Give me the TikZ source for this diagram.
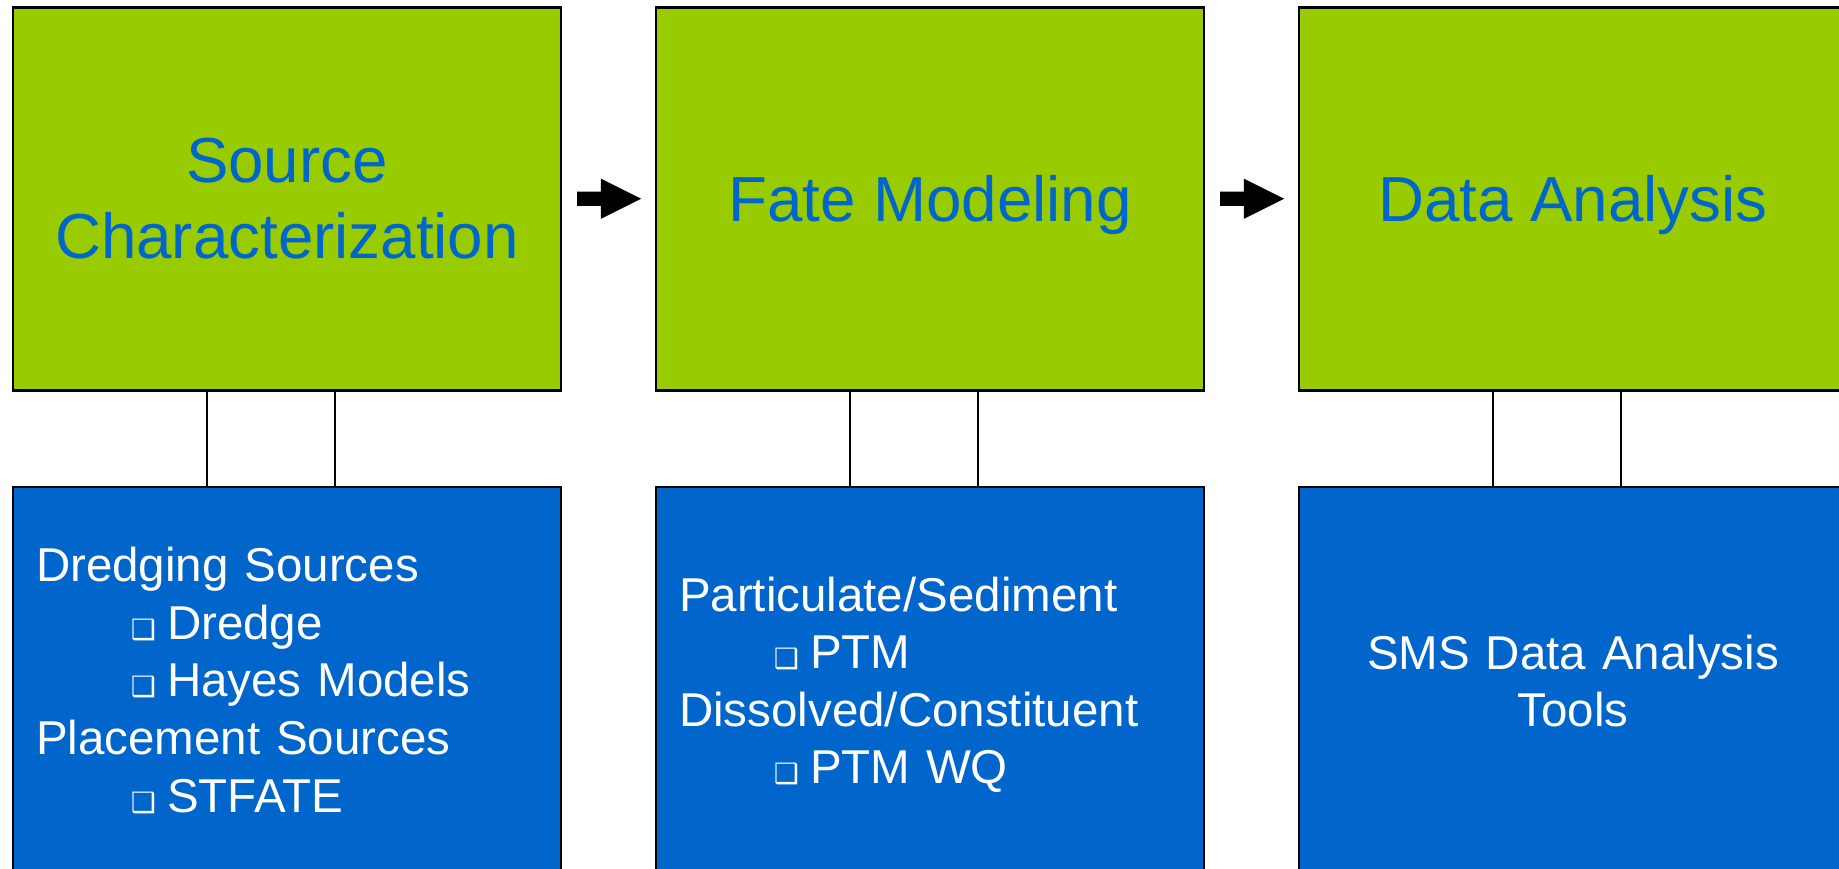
\documentclass[tikz,border=0pt]{standalone}
\usepackage{fontspec}
\setmainfont{Liberation Sans}
\newfontfamily\dingfont{DejaVu Sans}
\usetikzlibrary{positioning,shapes.arrows,calc}
\definecolor{stagegreen}{HTML}{99CC00}
\definecolor{toolblue}{HTML}{0066CC}
\tikzset{
  stage/.style={draw=black, line width=2.5pt, outer sep=0pt, fill=stagegreen,
    minimum width=548pt, minimum height=383pt, inner sep=0pt, text=toolblue,
    text depth=0pt, align=center, font=\fontsize{63.7}{76}\selectfont},
  tools/.style={draw=black, line width=2.5pt, outer sep=0pt, fill=toolblue,
    minimum width=548pt, minimum height=383pt, inner sep=0pt, text=white,
    text height=36pt, text width=502pt, font=\fontsize{47.5}{57.6}\selectfont},
  flow/.style={single arrow, fill=black, draw=none, minimum height=64pt,
    inner xsep=0pt, inner ysep=7pt, single arrow head extend=13pt,
    single arrow tip angle=53.13, anchor=tail},
  link/.style={line width=2pt}
}
\newcommand{\tooldot}{\makebox[131pt][r]{{\dingfont\fontsize{28}{28}\selectfont ❑}\hspace{11pt}}}
\begin{document}
\begin{tikzpicture}[x=1pt, y=-1pt]
    \useasboundingbox (0,0) rectangle (1839,868);

    % Stage boxes, left to right
    \node[stage] (src) at (287,198.75) {Source\\Characterization};
    \node[stage, right=95pt of src] (fate) {Fate Modeling};
    \node[stage, right=95pt of fate] (data) {Data Analysis};

    % Tool boxes below each stage (text depth sets where the lines sit)
    \node[tools, align=left, text depth=229pt, below=96.5pt of src] (srcT) {Dredging Sources\\
      \tooldot Dredge\\
      \tooldot Hayes Models\\
      Placement Sources\\
      \tooldot STFATE};
    \node[tools, align=left, text depth=170.5pt, below=96.5pt of fate] (fateT) {Particulate/Sediment\\
      \tooldot PTM\\
      Dissolved/Constituent\\
      \tooldot PTM WQ};
    \node[tools, align=center, text depth=54.5pt, below=96.5pt of data] (dataT) {SMS Data Analysis\\Tools};

    % Block arrows between the stages
    \node[flow] (arrA) at ([xshift=16pt]src.east) {};
    \node[flow] (arrB) at ([xshift=16pt]fate.east) {};

    % Pairs of links from each stage down to its tools
    \foreach \s in {src,fate,data} {
      \draw[link] ([xshift=-80pt]\s.south) -- ([xshift=-80pt]\s T.north);
      \draw[link] ([xshift=48pt]\s.south) -- ([xshift=48pt]\s T.north);
    }
\end{tikzpicture}
\end{document}
